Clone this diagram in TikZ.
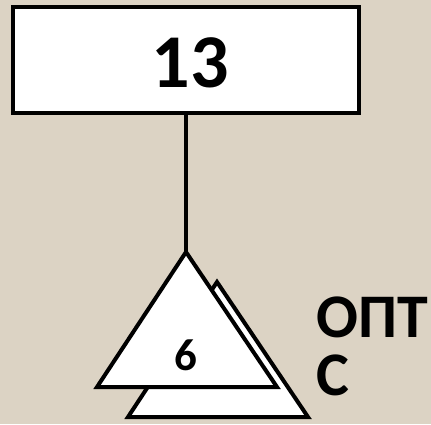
\documentclass[tikz,border=0pt]{standalone}
\usepackage{fontspec}
\setmainfont{Carlito}
\definecolor{bg}{HTML}{DCD3C4}
\tikzset{
  outline/.style={draw=black, line width=4pt, fill=white, line join=miter},
  lbl/.style={font=\bfseries, inner sep=0pt, anchor=base west}
}
\begin{document}
\begin{tikzpicture}[x=1pt,y=-1pt]
\fill[bg] (0,0) rectangle (431,424);
\useasboundingbox (0,0) rectangle (431,424);
% back triangle
\draw[outline] (217,282) -- (308,417) -- (128,417) -- cycle;
% front triangle
\coordinate (apex) at (186,252);
\draw[outline] (apex) -- (277,387) -- (97,387) -- cycle;
\node[font=\bfseries\fontsize{45}{45}\selectfont, inner sep=0pt, anchor=base] (six) at (186,370) {6};
% box
\node[outline, minimum width=346pt, minimum height=106pt, inner sep=0pt] (box) at (186,60) {};
\node[font=\bfseries\fontsize{76}{76}\selectfont, inner sep=0pt, anchor=base] (num) at (190,87) {13};
\draw[line width=4pt] (box.south) -- (apex);
\node[lbl, font=\bfseries\fontsize{62}{62}\selectfont] (l1) at (316,337) {ОПТ};
\node[lbl, font=\bfseries\fontsize{62}{62}\selectfont] (l2) at (316,395) {С};
\end{tikzpicture}
\end{document}
